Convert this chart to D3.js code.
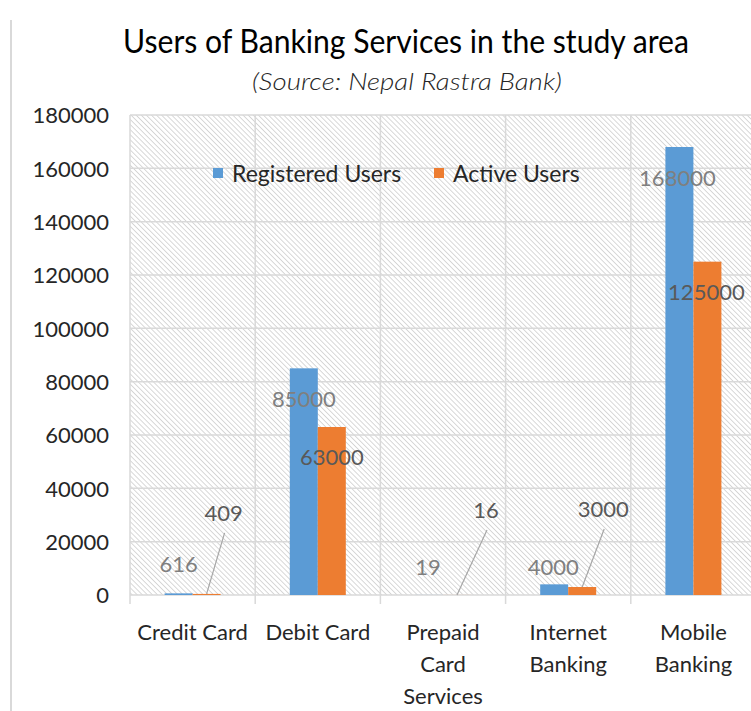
<!DOCTYPE html>
<html>
<head>
<meta charset="utf-8">
<script src="https://cdn.jsdelivr.net/npm/d3@7"></script>
<style>
  body { margin: 0; background: #fff; }
  text { font-family: Lato, "Open Sans", sans-serif; }
</style>
</head>
<body>
<div id="chart"></div>
<script>
var categories = [["Credit Card"], ["Debit Card"], ["Prepaid", "Card", "Services"], ["Internet", "Banking"], ["Mobile", "Banking"]];
var seriesNames = ["Registered Users", "Active Users"];
var registered = [616, 85000, 19, 4000, 168000];
var active = [409, 63000, 16, 3000, 125000];
var yTicks = [0, 20000, 40000, 60000, 80000, 100000, 120000, 140000, 160000, 180000];
var colors = ["#5b9bd5", "#ed7d31"];

// hand-placed label offsets (like the moved labels in the original), relative to bar top centre
var labelPos = [
  [[0, -21], [0, 39], [-1, -20], [-1, -9], [-2, 39]],
  [[17, -73], [0, 38], [29, -77], [21, -70], [-1, 38]]
];
var leaders = [[false, false, false, false, false], [true, false, true, true, false]];

var W = 751, H = 711;
var margin = {top: 115, left: 130, bottom: 595, right: 756};

var svg = d3.select("#chart").append("svg")
  .attr("width", W)
  .attr("height", H);

var defs = svg.append("defs");
var pat = defs.append("pattern")
  .attr("id", "hatch")
  .attr("patternUnits", "userSpaceOnUse")
  .attr("width", 3.6)
  .attr("height", 3.6)
  .attr("patternTransform", "rotate(-45)");
pat.append("rect").attr("width", 3.6).attr("height", 3.6).attr("fill", "#fff");
pat.append("line")
  .attr("x1", 0).attr("y1", 0).attr("x2", 0).attr("y2", 3.6)
  .attr("stroke", "#d4d4d4").attr("stroke-width", 1.8);

// chart border (left edge)
svg.append("line")
  .attr("x1", 11).attr("x2", 11).attr("y1", 20).attr("y2", H)
  .attr("stroke", "#d9d9d9").attr("stroke-width", 2);

var x = d3.scaleBand()
  .domain(d3.range(categories.length))
  .range([margin.left, margin.right])
  .padding(0);

var x1 = d3.scaleBand()
  .domain(seriesNames)
  .range([x.bandwidth() / 2 - 28, x.bandwidth() / 2 + 28]);

var y = d3.scaleLinear()
  .domain([0, 180000])
  .range([margin.bottom, margin.top]);

// plot area with hatch
svg.append("rect")
  .attr("x", margin.left)
  .attr("y", margin.top)
  .attr("width", margin.right - margin.left)
  .attr("height", margin.bottom - margin.top)
  .attr("fill", "url(#hatch)");

// horizontal gridlines
svg.append("g")
  .selectAll("line")
  .data(yTicks)
  .enter().append("line")
    .attr("x1", margin.left)
    .attr("x2", margin.right)
    .attr("y1", function(d) { return y(d); })
    .attr("y2", function(d) { return y(d); })
    .attr("stroke", "#d9d9d9")
    .attr("stroke-width", 1.5);

// vertical gridlines at category boundaries + ticks below axis
var bounds = d3.range(categories.length + 1);
svg.append("g")
  .selectAll("line")
  .data(bounds)
  .enter().append("line")
    .attr("x1", function(d) { return margin.left + d * x.bandwidth(); })
    .attr("x2", function(d) { return margin.left + d * x.bandwidth(); })
    .attr("y1", margin.top)
    .attr("y2", margin.bottom + 9)
    .attr("stroke", "#d9d9d9")
    .attr("stroke-width", 1.5);

// y axis labels
var yAxis = d3.axisLeft(y).tickValues(yTicks).tickSize(0).tickPadding(0).tickFormat(d3.format("d"));
var yg = svg.append("g")
  .attr("transform", "translate(109,0)")
  .call(yAxis);
yg.select(".domain").remove();
yg.selectAll("text")
  .attr("fill", "#262626")
  .attr("dy", "0.35em")
  .style("font-family", "Lato, sans-serif")
  .style("font-size", "22px");

// bars
var seriesData = [registered, active];
var barG = svg.append("g");
seriesData.forEach(function(vals, s) {
  barG.selectAll(".bar-" + s)
    .data(vals)
    .enter().append("rect")
      .attr("class", "bar-" + s)
      .attr("x", function(d, i) { return x(i) + x1(seriesNames[s]); })
      .attr("y", function(d) { return y(d); })
      .attr("width", x1.bandwidth())
      .attr("height", function(d) { return y(0) - y(d); })
      .attr("fill", colors[s]);
});

// data labels + leader lines
var labelColors = ["#7f7f7f", "#595959"];
seriesData.forEach(function(vals, s) {
  vals.forEach(function(d, i) {
    var cx = x(i) + x1(seriesNames[s]) + x1.bandwidth() / 2;
    var top = y(d);
    var lx = cx + labelPos[s][i][0];
    var ly = top + labelPos[s][i][1];
    if (leaders[s][i]) {
      svg.append("line")
        .attr("x1", cx).attr("y1", top)
        .attr("x2", lx + 1).attr("y2", ly + 12)
        .attr("stroke", "#a6a6a6").attr("stroke-width", 1.2);
    }
    svg.append("text")
      .attr("x", lx)
      .attr("y", ly)
      .attr("text-anchor", "middle")
      .attr("fill", labelColors[s])
      .style("font-size", "22px")
      .text(d);
  });
});

// category labels
var catG = svg.append("g");
categories.forEach(function(lines, i) {
  var t = catG.append("text")
    .attr("x", x(i) + x.bandwidth() / 2)
    .attr("y", 640)
    .attr("text-anchor", "middle")
    .attr("fill", "#262626")
    .style("font-size", "22px");
  lines.forEach(function(l, j) {
    t.append("tspan")
      .attr("x", x(i) + x.bandwidth() / 2)
      .attr("dy", j === 0 ? 0 : 32)
      .text(l);
  });
});

// legend
var legendX = [213, 434];
var legend = svg.append("g");
seriesNames.forEach(function(name, s) {
  legend.append("rect")
    .attr("x", legendX[s]).attr("y", 168)
    .attr("width", 10).attr("height", 10)
    .attr("fill", colors[s]);
  legend.append("text")
    .attr("x", legendX[s] + 19)
    .attr("y", 182)
    .attr("fill", "#262626")
    .style("font-size", "23px")
    .text(name);
});

// title
svg.append("text")
  .attr("x", 406)
  .attr("y", 53)
  .attr("text-anchor", "middle")
  .attr("fill", "#000")
  .attr("textLength", 566)
  .attr("lengthAdjust", "spacingAndGlyphs")
  .style("font-size", "32px")
  .text("Users of Banking Services in the study area");

svg.append("text")
  .attr("x", 407)
  .attr("y", 90)
  .attr("text-anchor", "middle")
  .attr("fill", "#262626")
  .attr("textLength", 310)
  .attr("lengthAdjust", "spacingAndGlyphs")
  .style("font-size", "23px")
  .style("font-style", "italic")
  .style("font-weight", "300")
  .text("(Source: Nepal Rastra Bank)");
</script>
</body>
</html>
